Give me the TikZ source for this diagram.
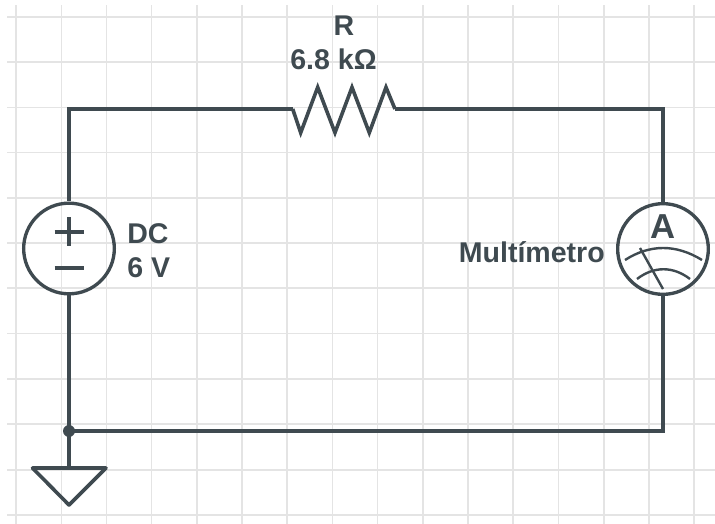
\documentclass[tikz,border=0pt]{standalone}
\usepackage{fontspec}
\setmainfont{Liberation Sans}
\definecolor{wirecol}{HTML}{3F4A50}
\definecolor{gridcol}{HTML}{E4E4E4}
\tikzset{
  wire/.style={draw=wirecol, line width=2.7pt},
  thinwire/.style={draw=wirecol, line width=1.8pt},
  signwire/.style={draw=wirecol, line width=2.35pt},
  lbl/.style={text=wirecol, font=\bfseries\fontsize{21.4}{24}\selectfont, inner sep=0pt, anchor=base},
  ring/.style={circle, draw=wirecol, line width=2.5pt, minimum size=68pt, inner sep=0pt}
}
\begin{document}
\begin{tikzpicture}[x=0.75pt, y=-0.75pt]
        \useasboundingbox (0, 0) rectangle (715, 524);
        % 网格
        \foreach \gx in {16, 61.5, 106.5, 151.5, 197, 242, 287, 332.5, 377.5, 423, 468, 513, 558.5, 604, 649, 694}
          \draw [gridcol, line width=1.2pt] (\gx, 5) -- (\gx, 524);
        \foreach \gy in {17, 62, 107.5, 152.5, 198, 243, 288, 333.5, 379, 424, 470, 515}
          \draw [gridcol, line width=1.2pt] (7, \gy) -- (715, \gy);
        % 电源与电表
        \node [ring] (source) at (69, 248.5) {};
        \node [ring] (meter) at (663, 249) {};
        \draw [signwire] (source.center) ++(-14.5, -16.5) -- ++(29, 0);
        \draw [signwire] (source.center) ++(0, -31) -- ++(0, 29);
        \draw [signwire] (source.center) ++(-14.5, 19.5) -- ++(29, 0);
        % 电阻
        \coordinate (resleft) at (292.7, 109);
        \coordinate (resright) at (395, 109);
        \draw [wire, line join=miter] (resleft) -- (300.7, 132.7) -- (317.7, 87.3) -- (335, 132.7) -- (352, 87.3) -- (369.3, 132.7) -- (386, 87.3) -- (resright);
        % 导线
        \coordinate (node) at (69, 431);
        \coordinate (gndtop) at (69, 468);
        \draw [wire] (source.north) |- (resleft);
        \draw [wire] (resright) -| (meter.north);
        \draw [wire] (meter.south) |- (node);
        \draw [wire] (source.south) -- (node) -- (gndtop);
        \fill [wirecol] (node) circle(6);
        % 接地
        \draw [wire, line join=round] (32.5, 468) -- (106, 468) -- (69, 505) -- cycle;
        % 表盘
        \draw [thinwire] (625, 260) .. controls (650, 244) and (676, 244) .. (702, 260);
        \draw [thinwire] (637, 279) .. controls (654, 266) and (673, 266) .. (690, 279);
        \draw [thinwire] (640, 248) -- (663, 289);
        % 标号
        \node [lbl, font=\bfseries\fontsize{26}{30}\selectfont] (metersym) at (663, 239) {A};
        \node [lbl] (rname) at (344, 36) {R};
        \node [lbl] (rvalue) at (333.5, 70) {6.8 kΩ};
        \node [lbl, anchor=base west] (dcname) at (127, 244) {DC};
        \node [lbl, anchor=base west] (dcvalue) at (127, 278) {6 V};
        \node [lbl, anchor=base east] (metername) at (605, 263) {Multímetro};
      \end{tikzpicture}
\end{document}
